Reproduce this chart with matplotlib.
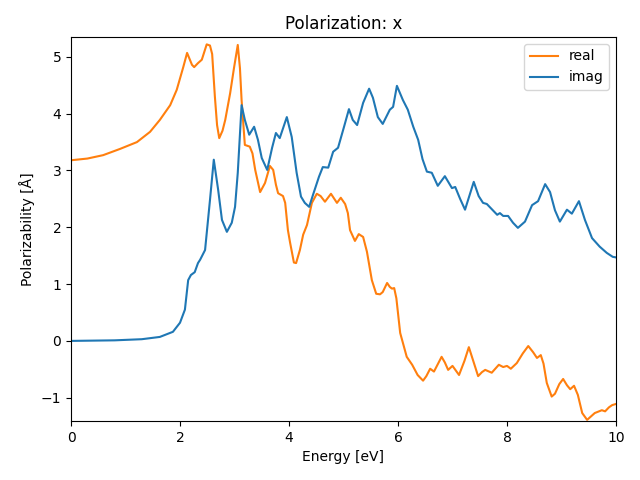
import matplotlib
matplotlib.use("Agg")
import matplotlib.pyplot as plt

real_x = [0, 0.3, 0.59, 0.9, 1.21, 1.45, 1.63, 1.82, 1.94, 2.06, 2.13, 2.22, 2.26, 2.33, 2.40,
          2.49, 2.55, 2.59, 2.64, 2.68, 2.72, 2.78, 2.83, 2.92, 2.99, 3.06, 3.1, 3.13, 3.19,
          3.28, 3.33, 3.38, 3.47, 3.56, 3.65, 3.71, 3.76, 3.8, 3.89, 3.93, 3.98, 4.02, 4.09,
          4.13, 4.2, 4.26, 4.33, 4.42, 4.51, 4.58, 4.66, 4.77, 4.88, 4.95, 5.03, 5.08, 5.12,
          5.21, 5.28, 5.36, 5.43, 5.52, 5.6, 5.67, 5.72, 5.80, 5.85, 5.89, 5.93, 5.97, 6.04,
          6.16, 6.26, 6.36, 6.46, 6.52, 6.59, 6.66, 6.80, 6.86, 6.92, 7.0, 7.06, 7.12, 7.22,
          7.30, 7.38, 7.47, 7.54, 7.6, 7.72, 7.85, 7.93, 8.0, 8.07, 8.18, 8.29, 8.39, 8.48,
          8.55, 8.62, 8.67, 8.73, 8.82, 8.88, 8.96, 9.03, 9.1, 9.16, 9.23, 9.3, 9.38, 9.47,
          9.54, 9.61, 9.74, 9.8, 9.87, 9.93, 10.0]
real_y = [3.18, 3.21, 3.27, 3.38, 3.5, 3.68, 3.89, 4.15, 4.42, 4.82, 5.07, 4.86, 4.82, 4.89, 4.95,
          5.22, 5.2, 5.05, 4.3, 3.8, 3.57, 3.7, 3.89, 4.36, 4.8, 5.21, 4.8, 4.24, 3.45,
          3.42, 3.3, 3.01, 2.62, 2.78, 3.08, 3.01, 2.75, 2.6, 2.55, 2.43, 1.95, 1.73, 1.38,
          1.37, 1.6, 1.87, 2.04, 2.43, 2.59, 2.55, 2.45, 2.59, 2.43, 2.52, 2.41, 2.25, 1.95,
          1.76, 1.88, 1.83, 1.57, 1.07, 0.83, 0.82, 0.86, 1.02, 0.95, 0.92, 0.93, 0.75, 0.14,
          -0.28, -0.42, -0.6, -0.70, -0.62, -0.49, -0.54, -0.28, -0.38, -0.51, -0.44, -0.52, -0.60, -0.35,
          -0.11, -0.35, -0.62, -0.55, -0.51, -0.56, -0.42, -0.46, -0.44, -0.49, -0.39, -0.22, -0.09, -0.2,
          -0.30, -0.25, -0.4, -0.74, -0.98, -0.93, -0.76, -0.67, -0.78, -0.85, -0.79, -0.95, -1.27, -1.39,
          -1.33, -1.27, -1.22, -1.24, -1.17, -1.13, -1.11]

imag_x = [0, 0.8, 1.3, 1.63, 1.87, 2.0, 2.09, 2.15, 2.2, 2.27, 2.33, 2.37, 2.46, 2.55, 2.62,
          2.70, 2.77, 2.86, 2.95, 3.01, 3.06, 3.13, 3.19, 3.27, 3.36, 3.43, 3.5, 3.6, 3.69,
          3.76, 3.83, 3.96, 4.05, 4.14, 4.22, 4.29, 4.37, 4.44, 4.55, 4.62, 4.72, 4.81, 4.9,
          5.01, 5.1, 5.17, 5.25, 5.36, 5.47, 5.54, 5.63, 5.72, 5.85, 5.91, 5.98, 6.09, 6.18,
          6.28, 6.37, 6.45, 6.53, 6.62, 6.73, 6.86, 6.99, 7.05, 7.14, 7.23, 7.39, 7.48, 7.56,
          7.63, 7.72, 7.82, 7.87, 7.93, 8.02, 8.11, 8.2, 8.33, 8.46, 8.57, 8.7, 8.79, 8.88,
          8.97, 9.1, 9.19, 9.32, 9.43, 9.56, 9.7, 9.83, 9.94, 10.0]
imag_y = [0.0, 0.01, 0.03, 0.07, 0.16, 0.32, 0.55, 1.07, 1.16, 1.21, 1.37, 1.43, 1.6, 2.48, 3.19,
          2.66, 2.13, 1.92, 2.08, 2.36, 2.96, 4.15, 3.89, 3.63, 3.77, 3.54, 3.22, 3.01, 3.4,
          3.66, 3.57, 3.94, 3.59, 2.96, 2.54, 2.43, 2.36, 2.57, 2.89, 3.06, 3.05, 3.33, 3.4,
          3.77, 4.08, 3.89, 3.8, 4.19, 4.44, 4.28, 3.94, 3.82, 4.07, 4.12, 4.49, 4.24, 4.07,
          3.77, 3.54, 3.2, 2.98, 2.96, 2.73, 2.9, 2.69, 2.71, 2.5, 2.31, 2.8, 2.55, 2.43,
          2.41, 2.32, 2.22, 2.25, 2.2, 2.2, 2.08, 1.99, 2.1, 2.39, 2.46, 2.76, 2.62, 2.3,
          2.1, 2.31, 2.24, 2.46, 2.13, 1.81, 1.66, 1.55, 1.48, 1.47]

fig = plt.figure(figsize=(6.4, 4.8), dpi=100)
ax = fig.add_axes([71 / 640, 1 - 421 / 480, (616 - 71) / 640, (421 - 37) / 480])
ax.plot(real_x, real_y, color="C1", label="real")
ax.plot(imag_x, imag_y, color="C0", label="imag")
ax.set_xlim(0, 10)
ax.set_ylim(-1.41, 5.35)
ax.set_title("Polarization: x")
ax.set_xlabel("Energy [eV]")
ax.set_ylabel("Polarizability [Å]")
ax.legend(loc="upper right")
fig.savefig("out.png")
